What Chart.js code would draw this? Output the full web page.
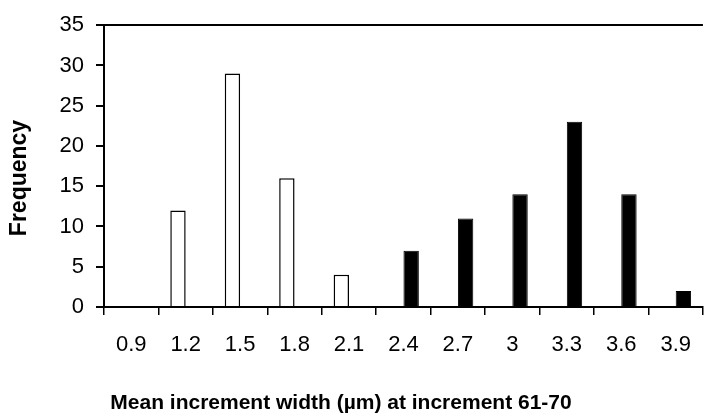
<!DOCTYPE html>
<html>
<head>
<meta charset="utf-8">
<script src="https://cdn.jsdelivr.net/npm/chart.js@4/dist/chart.umd.min.js"></script>
<style>
  html, body { margin: 0; padding: 0; background: #fff; overflow: hidden; }
  .wrap { position: relative; width: 708px; height: 416px; }
</style>
</head>
<body>
<div class="wrap"><canvas id="histChart"></canvas></div>
<script>
// increment width classes (µm)
const widthClasses = ['0.9', '1.2', '1.5', '1.8', '2.1', '2.4', '2.7', '3', '3.3', '3.6', '3.9'];
// frequency of the narrow group (open bars) and the wide group (filled bars)
const narrowFreq = [0, 12, 29, 16, 4, 0, 0, 0, 0, 0, 0];
const wideFreq = [0, 0, 0, 0, 0, 7, 11, 14, 23, 14, 2];
const yTicks = [0, 5, 10, 15, 20, 25, 30, 35];

const xTitle = 'Mean increment width (µm) at increment 61-70';
const yTitle = 'Frequency';

const font = 'Liberation Sans, Arial, Helvetica, sans-serif';

// axis titles, placed like the spreadsheet version (centred on the whole
// figure rather than on the plot area)
const axisCaptions = {
  id: 'axisCaptions',
  afterDraw(chart) {
    const ctx = chart.ctx;
    ctx.save();
    ctx.fillStyle = '#000';
    ctx.textAlign = 'center';
    ctx.textBaseline = 'alphabetic';
    ctx.font = 'bold 21px ' + font;
    ctx.fillText(xTitle, 341, 409);
    ctx.translate(26, 178);
    ctx.rotate(-Math.PI / 2);
    ctx.font = 'bold 23px ' + font;
    ctx.fillText(yTitle, 0, 0);
    ctx.restore();
  }
};

const config = {
  type: 'bar',
  data: {
    labels: widthClasses,
    datasets: [{
      label: 'narrow',
      data: narrowFreq,
      backgroundColor: '#ffffff',
      borderColor: '#000000',
      borderWidth: 1.5,
      categoryPercentage: 0.565,
      barPercentage: 1
    }, {
      label: 'wide',
      data: wideFreq,
      backgroundColor: '#000000',
      borderColor: '#000000',
      borderWidth: 1,
      categoryPercentage: 0.565,
      barPercentage: 1
    }]
  },
  options: {
    responsive: true,
    maintainAspectRatio: false,
    animation: false,
    layout: { padding: { top: 19, left: 0, right: 0, bottom: 37 } },
    plugins: {
      legend: { display: false },
      tooltip: { enabled: false }
    },
    scales: {
      x: {
        grid: {
          offset: true,
          drawOnChartArea: false,
          color: '#000',
          tickColor: '#000',
          tickLength: 8,
          lineWidth: 1.5
        },
        border: { color: '#000', width: 2 },
        ticks: {
          color: '#000',
          padding: 17,
          maxRotation: 0,
          font: { family: font, size: 22 }
        },
        afterFit: function (s) { s.height = 72; }
      },
      y: {
        min: 0,
        max: 35,
        afterBuildTicks: function (s) {
          s.ticks = yTicks.map(v => ({ value: v }));
        },
        grid: {
          color: c => (c.tick && c.tick.value === 35 ? '#000' : 'rgba(0,0,0,0)'),
          tickColor: '#000',
          tickLength: 8,
          lineWidth: 2
        },
        border: { color: '#000', width: 2 },
        ticks: {
          color: '#000',
          padding: 12,
          font: { family: font, size: 22 }
        },
        afterFit: function (s) { s.width = 104; }
      }
    }
  },
  plugins: [axisCaptions]
};

const histChart = new Chart(document.getElementById('histChart').getContext('2d'), config);
</script>
</body>
</html>
